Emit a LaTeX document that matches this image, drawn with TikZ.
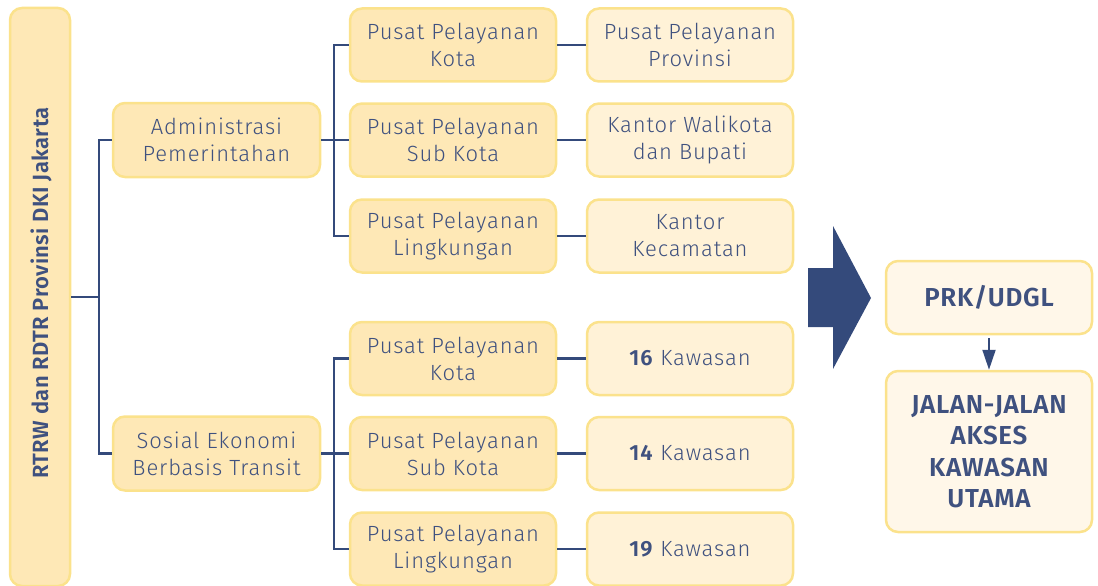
\documentclass[tikz,border=0pt]{standalone}
\usepackage{fontspec}
\setmainfont{Fira Sans Light}[BoldFont=Fira Sans SemiBold, LetterSpace=4]
\newfontfamily\barfont{Fira Sans SemiBold}[LetterSpace=1.8]
\newfontfamily\outfont{Fira Sans SemiBold}[LetterSpace=2.5]
\usetikzlibrary{positioning,arrows.meta}
\definecolor{txt}{HTML}{3F517F}
\definecolor{ln}{HTML}{344A7B}
\definecolor{bord}{HTML}{FBE28C}
\definecolor{fillA}{HTML}{FEE8B6}
\definecolor{fillB}{HTML}{FFF2D7}
\definecolor{fillC}{HTML}{FFF7E9}
\tikzset{
  box/.style={draw=bord, line width=2.5pt, rounded corners=12pt, align=center,
    text=txt, font=\fontsize{22}{27}\selectfont, inner sep=0pt},
  midbox/.style={box, fill=fillA, minimum width=206pt, minimum height=73pt},
  rightbox/.style={box, fill=fillB, minimum width=206pt, minimum height=73pt},
  outbox/.style={box, fill=fillC, minimum width=206pt, font=\outfont\fontsize{26}{31.5}\selectfont},
  conn/.style={draw=ln, line width=2.5pt},
}
\begin{document}
\begin{tikzpicture}[x=1pt,y=-1pt]
\useasboundingbox (0,0) rectangle (1098,586);
% left bar
\node[box, fill=fillA, minimum width=60pt, minimum height=578pt] (bar) at (40,297) {};
\node[rotate=90, text=txt, font=\barfont\fontsize{22}{25}\selectfont] (bartxt) at (41,293) {RTRW dan RDTR Provinsi DKI Jakarta};
% level 1
\node[midbox, minimum width=207pt, minimum height=74pt] (admin) at (216.5,140) {Administrasi\\Pemerintahan};
\node[midbox, minimum width=207pt, minimum height=74pt] (sosial) at (216.5,453.5) {Sosial Ekonomi\\Berbasis Transit};
% level 2
\node[midbox] (m1) at (453,45) {Pusat Pelayanan\\Kota};
\node[midbox] (m2) at (453,140) {Pusat Pelayanan\\Sub Kota};
\node[midbox] (m3) at (453,236) {Pusat Pelayanan\\Lingkungan};
\node[midbox] (m4) at (453,358.5) {Pusat Pelayanan\\Kota};
\node[midbox] (m5) at (453,453.5) {Pusat Pelayanan\\Sub Kota};
\node[midbox] (m6) at (453,549) {Pusat Pelayanan\\Lingkungan};
% level 3
\node[rightbox] (r1) at (690,45) {Pusat Pelayanan\\Provinsi};
\node[rightbox] (r2) at (690,140) {Kantor Walikota\\dan Bupati};
\node[rightbox] (r3) at (690,236) {Kantor\\Kecamatan};
\node[rightbox] (r4) at (690,358.5) {\textbf{16} Kawasan};
\node[rightbox] (r5) at (690,453.5) {\textbf{14} Kawasan};
\node[rightbox] (r6) at (690,549) {\textbf{19} Kawasan};
% output
\node[outbox, minimum height=73pt] (prk) at (989,297.5) {PRK/UDGL};
\node[outbox, minimum height=161pt] (jalan) at (989,451.5) {JALAN-JALAN\\AKSES\\KAWASAN\\UTAMA};
% big arrow
\fill[ln] (808,268) -- (833,268) -- (833,226) -- (871,298) -- (833,369) -- (833,327) -- (808,327) -- cycle;
% connectors
\coordinate (j1) at (99,297);
\coordinate (j2) at (334,140);
\coordinate (j3) at (334,453.5);
\draw[conn] (bar.east |- j1) -- (j1);
\draw[conn] (admin.west) -| (j1);
\draw[conn] (sosial.west) -| (j1);
\draw[conn] (admin.east) -- (m2.west);
\draw[conn] (m1.west) -| (j2);
\draw[conn] (m3.west) -| (j2);
\draw[conn] (sosial.east) -- (m5.west);
\draw[conn] (m4.west) -| (j3);
\draw[conn] (m6.west) -| (j3);
\foreach \i in {1,...,6} \draw[conn] (m\i.east) -- (r\i.west);
\draw[draw=ln, line width=2pt, -{Triangle[length=20pt,width=13pt]}] (prk.south) ++(0,3) coordinate (a0) (a0) -- (jalan.north);
\end{tikzpicture}
\end{document}
